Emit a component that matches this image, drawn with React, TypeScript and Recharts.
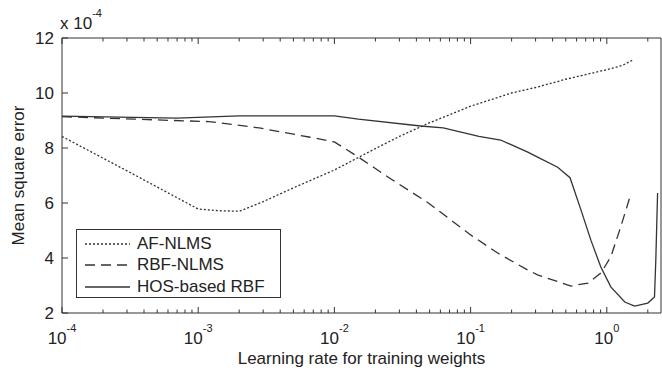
import React from 'react';
import { LineChart, Line, XAxis, YAxis, Legend, Label } from 'recharts';

// learning rate (x) and mean square error (y, x 10^-4) for each method
const afX = [0.0001, 0.0003, 0.001, 0.0014, 0.002, 0.003, 0.005, 0.01, 0.02, 0.03, 0.05, 0.1, 0.2, 0.3, 0.5, 1, 1.3, 1.55];
const afY = [8.42, 7.17, 5.78, 5.72, 5.7, 6.05, 6.55, 7.2, 7.98, 8.42, 8.92, 9.52, 10.0, 10.2, 10.5, 10.85, 11.0, 11.2];

const rbfX = [0.0001, 0.0005, 0.0012, 0.0028, 0.0065, 0.01, 0.015, 0.025, 0.049, 0.1, 0.158, 0.263, 0.313, 0.546, 0.726, 0.904, 1.07, 1.265, 1.47];
const rbfY = [9.14, 9.02, 8.96, 8.73, 8.4, 8.22, 7.67, 6.93, 6.0, 4.84, 4.18, 3.56, 3.38, 2.98, 3.09, 3.45, 4.04, 5.13, 6.18];

const hosX = [0.0001, 0.0007, 0.002, 0.01, 0.015, 0.043, 0.063, 0.115, 0.166, 0.263, 0.313, 0.436, 0.537, 0.646, 0.764, 0.904, 1.07, 1.355, 1.6, 2.0, 2.24, 2.29, 2.36];
const hosY = [9.16, 9.09, 9.17, 9.17, 9.05, 8.8, 8.73, 8.42, 8.29, 7.85, 7.66, 7.3, 6.92, 5.75, 4.65, 3.67, 2.95, 2.4, 2.25, 2.36, 2.58, 3.93, 6.36];

const majorTicks = [0.0001, 0.001, 0.01, 0.1, 1];
const exponents = ['-4', '-3', '-2', '-1', '0'];
const yTicks = [2, 4, 6, 8, 10, 12];

const minorTicks: number[] = [];
majorTicks.forEach((m) => {
  for (let k = 2; k <= 9; k++) {
    if (m * k <= 2.01) minorTicks.push(m * k);
  }
});
const xTicks = [...majorTicks, ...minorTicks].sort((a, b) => a - b);

const font = '"Liberation Sans", Arial, sans-serif';
const textColor = '#222';
const axisColor = '#333';
const lineColor = '#333';

const toPoints = (xs: number[], ys: number[]) => xs.map((x, i) => ({ x, y: ys[i] }));

const series = [
  { name: 'AF-NLMS', data: toPoints(afX, afY), dash: '2 2' },
  { name: 'RBF-NLMS', data: toPoints(rbfX, rbfY), dash: '10 6' },
  { name: 'HOS-based RBF', data: toPoints(hosX, hosY), dash: undefined },
];

const majorIndex = (v: number) => majorTicks.findIndex((m) => Math.abs(m - v) < m * 1e-6);

// axes are 1px thick; plot box edges: left 62, right 661, top 38, bottom 313
const BottomTick = ({ x, y, payload }: any) => {
  const idx = majorIndex(payload.value);
  return (
    <g>
      <line x1={x} x2={x} y1={y} y2={y - (idx >= 0 ? 6 : 3.5)} stroke={axisColor} />
      {idx >= 0 && (
        <text x={x} y={y + 31} textAnchor="middle" fill={textColor} fontSize={17} fontFamily={font}>
          10
          <tspan dy={-12} fontSize={11}>
            {exponents[idx]}
          </tspan>
        </text>
      )}
    </g>
  );
};

const TopTick = ({ x, y, payload }: any) => {
  const idx = majorIndex(payload.value);
  return <line x1={x} x2={x} y1={y} y2={y + (idx >= 0 ? 6 : 3.5)} stroke={axisColor} />;
};

const LeftTick = ({ x, y, payload }: any) => (
  <g>
    <line x1={x} x2={x + 6} y1={y} y2={y} stroke={axisColor} />
    <text x={x - 8} y={y + 6} textAnchor="end" fill={textColor} fontSize={17} fontFamily={font}>
      {payload.value}
    </text>
  </g>
);

const RightTick = ({ x, y }: any) => <line x1={x} x2={x - 6} y1={y} y2={y} stroke={axisColor} />;

const LegendBox = () => (
  <div
    style={{
      border: `1px solid ${axisColor}`,
      background: '#fff',
      boxSizing: 'border-box',
      width: 205,
      height: 69,
      paddingTop: 3,
      paddingLeft: 8,
      fontFamily: font,
      fontSize: 17,
      color: textColor,
    }}
  >
    {series.map((s) => (
      <div key={s.name} style={{ display: 'flex', alignItems: 'center', height: 21.5 }}>
        <svg width={45} height={6} style={{ marginRight: 7 }}>
          <line x1={0} x2={45} y1={3} y2={3} stroke={lineColor} strokeWidth={1.3} strokeDasharray={s.dash} />
        </svg>
        <span>{s.name}</span>
      </div>
    ))}
  </div>
);

export default function App() {
  return (
    <div>
      <style>{'body{margin:0;background:#fff}'}</style>
      <LineChart width={662} height={373} margin={{ top: 37, right: 0, bottom: 59, left: 61 }}>
        <XAxis
          xAxisId="b"
          dataKey="x"
          type="number"
          scale="log"
          domain={[0.0001, 2.5]}
          allowDataOverflow
          ticks={xTicks}
          interval={0}
          height={1}
          tickSize={0}
          tickMargin={0}
          tickLine={false}
          tick={<BottomTick />}
          axisLine={{ stroke: axisColor }}
        >
          <Label
            content={({ viewBox }: any) => (
              <text
                x={viewBox.x + viewBox.width / 2}
                y={viewBox.y + 51}
                textAnchor="middle"
                fill={textColor}
                fontSize={17}
                fontFamily={font}
              >
                Learning rate for training weights
              </text>
            )}
          />
        </XAxis>
        <XAxis
          xAxisId="t"
          orientation="top"
          dataKey="x"
          type="number"
          scale="log"
          domain={[0.0001, 2.5]}
          allowDataOverflow
          ticks={xTicks}
          interval={0}
          height={1}
          tickSize={0}
          tickMargin={0}
          tickLine={false}
          tick={<TopTick />}
          axisLine={{ stroke: axisColor }}
        >
          <Label
            content={({ viewBox }: any) => (
              <text x={viewBox.x - 2} y={viewBox.y - 8} fill={textColor} fontSize={17} fontFamily={font}>
                x 10
                <tspan dy={-12} fontSize={11}>
                  -4
                </tspan>
              </text>
            )}
          />
        </XAxis>
        <YAxis
          yAxisId="l"
          type="number"
          domain={[2, 12]}
          ticks={yTicks}
          interval={0}
          width={1}
          tickSize={0}
          tickMargin={0}
          tickLine={false}
          tick={<LeftTick />}
          axisLine={{ stroke: axisColor }}
        >
          <Label
            content={({ viewBox }: any) => {
              const cx = viewBox.x + viewBox.width - 38;
              const cy = viewBox.y + viewBox.height / 2;
              return (
                <text
                  x={cx}
                  y={cy}
                  transform={`rotate(-90 ${cx} ${cy})`}
                  textAnchor="middle"
                  fill={textColor}
                  fontSize={17}
                  fontFamily={font}
                >
                  Mean square error
                </text>
              );
            }}
          />
        </YAxis>
        <YAxis
          yAxisId="r"
          orientation="right"
          type="number"
          domain={[2, 12]}
          ticks={yTicks}
          interval={0}
          width={1}
          tickSize={0}
          tickMargin={0}
          tickLine={false}
          tick={<RightTick />}
          axisLine={{ stroke: axisColor }}
        />
        {series.map((s) => (
          <Line
            key={s.name}
            xAxisId="b"
            yAxisId="l"
            data={s.data}
            dataKey="y"
            name={s.name}
            type="linear"
            stroke={lineColor}
            strokeWidth={1.3}
            strokeDasharray={s.dash}
            dot={false}
            activeDot={false}
            isAnimationActive={false}
          />
        ))}
        <Legend
          layout="vertical"
          align="center"
          verticalAlign="middle"
          wrapperStyle={{ left: 76, top: 229, width: 205, height: 69 }}
          content={<LegendBox />}
        />
      </LineChart>
    </div>
  );
}
